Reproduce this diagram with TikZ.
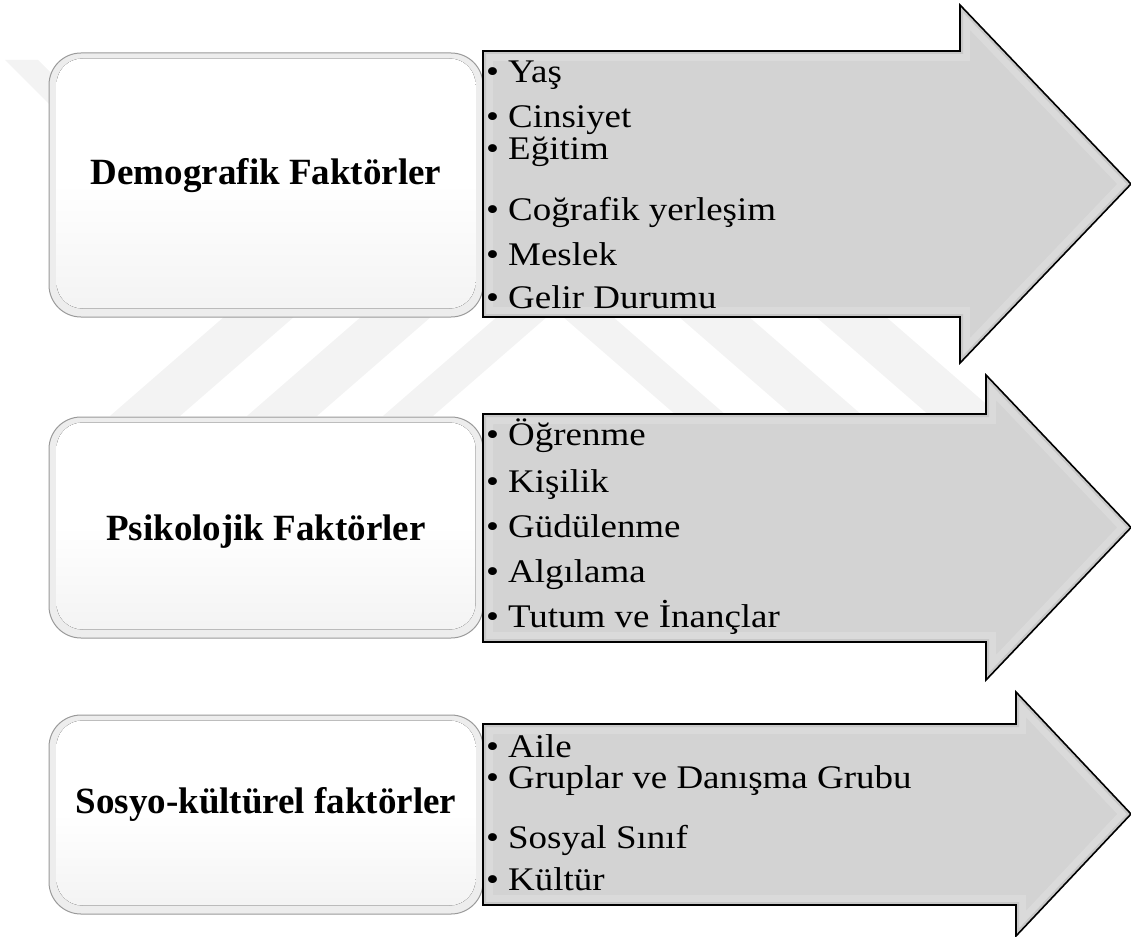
\documentclass[tikz,border=0pt]{standalone}
\usepackage{fontspec}
\setmainfont{Liberation Serif}
\newfontfamily\listfont[FakeStretch=1.12]{Liberation Serif}
\begin{document}
\begin{tikzpicture}[x=1pt,y=-1pt]
\definecolor{wm}{HTML}{F3F3F3}
\definecolor{arrowgray}{HTML}{D3D3D3}
\definecolor{bevellight}{HTML}{DADADA}
\definecolor{beveldark}{HTML}{C8C8C8}
\definecolor{boxedge}{HTML}{9A9A9A}
\definecolor{boxring}{HTML}{EDEDED}
\tikzset{
  factorbox/.style={draw=boxedge, line width=1pt, fill=boxring,
    rounded corners=32pt, inner sep=0pt},
  boxface/.style={rounded corners=26pt, top color=white, bottom color=gray!9,
    middle color=white},
  heading/.style={font=\fontsize{37}{44}\selectfont\bfseries, anchor=base, inner sep=0pt},
  item/.style={font=\listfont\fontsize{33}{40}\selectfont, anchor=base west, inner sep=0pt},
  arrowline/.style={draw=black, line width=1.6pt, line join=miter},
}
% rect top, rect bottom, head base x, head top, head bottom
\newcommand{\factorarrow}[5]{%
  \fill[arrowgray] (483,#1) -- (#3,#1) -- (#3,#4) -- (1131,{(#4+#5)/2}) -- (#3,#5) -- (#3,#2) -- (483,#2) -- cycle;
  \begin{scope}
    \clip (483,#1) -- (#3,#1) -- (#3,#4) -- (1131,{(#4+#5)/2}) -- (#3,#5) -- (#3,#2) -- (483,#2) -- cycle;
    \draw[bevellight, line width=20pt] (483,#1) -- (#3,#1) -- (#3,#4) -- (1131,{(#4+#5)/2}) -- (#3,#5) -- (#3,#2) -- (483,#2) -- cycle;
    \draw[beveldark, line width=6pt] (483,#1) -- (#3,#1) -- (#3,#4) -- (1131,{(#4+#5)/2}) -- (#3,#5) -- (#3,#2) -- (483,#2) -- cycle;
  \end{scope}
  \draw[arrowline] (483,#1) -- (#3,#1) -- (#3,#4) -- (1131,{(#4+#5)/2}) -- (#3,#5) -- (#3,#2) -- (483,#2) -- cycle;
}
\useasboundingbox (0,0) rectangle (1131,936);

% faint chevron watermark in the background
\begin{scope}
  \clip (0,55) rectangle (1131,416);
  \foreach \a/\b in {110/180, 247/317, 383/433}
    \fill[wm] (\a,416) -- (\b,416) -- ({\b+1.15*356},60) -- ({\a+1.15*356},60) -- cycle;
  \foreach \a/\b in {677/727, 793/863, 930/1000}
    \fill[wm] (\a,416) -- (\b,416) -- ({\b-1.15*356},60) -- ({\a-1.15*356},60) -- cycle;
  \fill[wm] (5,60) -- (38,60) -- (100,122) -- (67,122) -- cycle;
\end{scope}

% left boxes
\node[factorbox, minimum width=434pt, minimum height=264pt] (demo) at (266,185) {};
\node[factorbox, minimum width=434pt, minimum height=221pt] (psy) at (266,527.5) {};
\node[factorbox, minimum width=434pt, minimum height=199pt] (soc) at (266,814.5) {};
\foreach \b in {demo, psy, soc}
  \fill[boxface] ([xshift=8pt,yshift=-6pt]\b.north west) rectangle ([xshift=-8pt,yshift=9pt]\b.south east);

\node[heading] (demoT) at (266,184) {Demografik Faktörler};
\node[heading] (psyT) at (266,540.5) {Psikolojik Faktörler};
\node[heading] (socT) at (266,813) {Sosyo-kültürel faktörler};

% arrows
\factorarrow{51}{317}{960}{5}{363}
\factorarrow{414}{642}{986}{375}{680}
\factorarrow{724}{905}{1016}{692}{936}

% bullet lists
\newcommand{\bul}{\makebox[22pt][l]{\textbullet}}
\node[item] (d1) at (486,83) {\bul Yaş};
\node[item] (d2) at (486,128) {\bul Cinsiyet};
\node[item] (d3) at (486,160) {\bul Eğitim};
\node[item] (d4) at (486,220) {\bul Coğrafik yerleşim};
\node[item] (d5) at (486,265) {\bul Meslek};
\node[item] (d6) at (486,308) {\bul Gelir Durumu};

\node[item] (p1) at (486,445) {\bul Öğrenme};
\node[item] (p2) at (486,492) {\bul Kişilik};
\node[item] (p3) at (486,537) {\bul Güdülenme};
\node[item] (p4) at (486,582) {\bul Algılama};
\node[item] (p5) at (486,627) {\bul Tutum ve İnançlar};

\node[item] (s1) at (486,757) {\bul Aile};
\node[item] (s2) at (486,788) {\bul Gruplar ve Danışma Grubu};
\node[item] (s3) at (486,848) {\bul Sosyal Sınıf};
\node[item] (s4) at (486,890) {\bul Kültür};
\end{tikzpicture}
\end{document}
